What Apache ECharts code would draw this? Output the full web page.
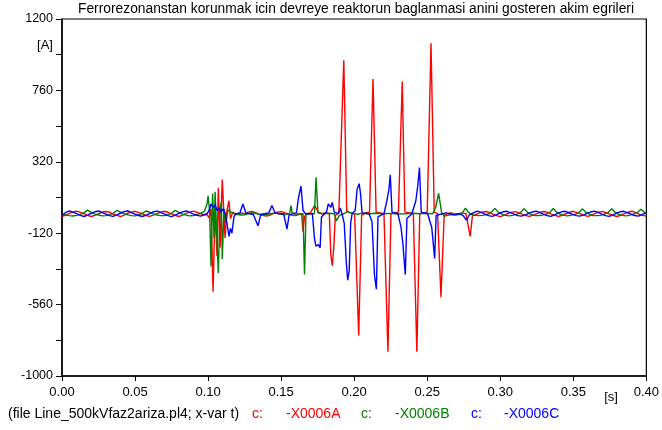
<!DOCTYPE html>
<html><head><meta charset="utf-8">
<script src="https://cdn.jsdelivr.net/npm/echarts@6/dist/echarts.min.js"></script>
<style>html,body{margin:0;padding:0;background:#fff}#c{width:662px;height:430px}</style>
</head><body><div id="c"></div>
<script>
const titleText = 'Ferrorezonanstan korunmak icin devreye reaktorun baglanmasi anini gosteren akim egrileri';
const yUnit = '[A]';
const xUnit = '[s]';
const fileNote = '(file Line_500kVfaz2ariza.pl4; x-var t)';
const seriesNames = ['-X0006A', '-X0006B', '-X0006C'];
const seriesColors = ['#ff0000', '#008000', '#0000ff'];

// Phase A current [t (s), i (A)]
const curveA = [
[0,-18],[0.0025,-8],[0.005,2],[0.0075,10],[0.01,16],[0.0125,8],[0.015,0],[0.0175,-10],[0.02,-17],[0.0225,-10],
[0.025,0],[0.0275,9],[0.03,14],[0.0325,10],[0.035,-2],[0.0375,-9],[0.04,-18],[0.0425,-8],[0.045,3],[0.0475,10],
[0.05,15],[0.0525,7],[0.055,0],[0.0575,-11],[0.06,-16],[0.0625,-9],[0.065,1],[0.0675,8],[0.07,15],[0.0725,9],
[0.075,-1],[0.0775,-10],[0.08,-17],[0.0825,-9],[0.085,2],[0.0875,10],[0.09,16],[0.0925,8],[0.095,0],[0.0975,-8],
[0.0993,-5],[0.1007,-25],[0.102,30],[0.1034,-480],[0.1048,40],[0.1061,-260],[0.107,160],[0.1082,-210],[0.1097,210],
[0.1116,-150],[0.1129,20],[0.1143,80],[0.1153,-30],[0.117,10],[0.119,-5],
[0.1225,5],[0.125,0],[0.1275,10],[0.13,14],[0.1325,6],[0.135,-3],[0.1375,-10],[0.14,-14],[0.1425,-8],[0.145,2],
[0.1475,9],[0.15,13],[0.1525,7],[0.155,-2],[0.1575,-9],[0.16,-12],[0.162,-6],
[0.164,0],[0.165,-110],[0.166,-20],[0.1673,0],[0.17,5],[0.1729,50],[0.1737,45],[0.1755,10],[0.178,0],[0.1805,5],
[0.183,0],[0.184,-250],[0.185,-320],[0.1861,-200],[0.1871,-10],[0.1895,5],[0.1908,10],[0.1929,945],[0.1949,15],
[0.1975,5],[0.2003,0],[0.2031,-750],[0.2051,-10],[0.2078,5],[0.2105,10],[0.2129,830],[0.215,10],[0.2178,5],
[0.2204,0],[0.2231,-850],[0.2252,0],[0.2278,5],[0.2303,10],[0.2329,815],[0.2347,10],[0.2378,5],[0.2405,0],
[0.2429,-850],[0.2449,0],[0.2475,5],[0.25,10],[0.2526,1050],[0.2548,10],[0.2571,0],[0.2594,-515],[0.2616,-10],
[0.264,0],[0.2665,5],[0.269,-5],[0.2715,0],[0.274,5],[0.2765,0],[0.2776,-5],[0.2794,-140],[0.281,-10],
[0.2825,-8],[0.285,2],[0.2875,10],[0.29,14],[0.2925,8],[0.295,-2],[0.2975,-12],[0.30,-18],[0.3025,-10],[0.305,0],
[0.3075,8],[0.31,13],[0.3125,7],[0.315,-3],[0.3175,-11],[0.32,-16],[0.3225,-9],[0.325,1],[0.3275,9],[0.33,14],
[0.3325,8],[0.335,-2],[0.3375,-10],[0.34,-17],[0.3425,-9],[0.345,0],[0.3475,9],[0.35,15],[0.3525,7],[0.355,-1],
[0.3575,-10],[0.36,-16],[0.3625,-8],[0.365,2],[0.3675,10],[0.37,14],[0.3725,6],[0.375,-2],[0.3775,-11],[0.38,-17],
[0.3825,-8],[0.385,1],[0.3875,9],[0.39,15],[0.3925,8],[0.395,-3],[0.3975,-10],[0.40,-15]
];

// Phase B current
const curveB = [
[0,-5],[0.0025,-8],[0.005,-12],[0.0075,-14],[0.01,-10],[0.0125,-4],[0.015,5],[0.0175,22],[0.02,8],[0.0225,-2],
[0.025,-8],[0.0275,-13],[0.03,-12],[0.0325,-6],[0.035,2],[0.0375,20],[0.04,10],[0.0425,0],[0.045,-7],[0.0475,-12],
[0.05,-13],[0.0525,-7],[0.055,3],[0.0575,18],[0.06,9],[0.0625,-1],[0.065,-8],[0.0675,-12],[0.07,-12],[0.0725,-6],
[0.075,2],[0.0775,21],[0.08,8],[0.0825,-2],[0.085,-9],[0.0875,-13],[0.09,-11],[0.0925,-5],[0.095,4],[0.0975,15],
[0.0993,60],[0.1,110],[0.101,20],[0.102,-325],[0.1031,125],[0.1041,-150],[0.1048,135],[0.1058,-100],[0.107,-365],
[0.1082,40],[0.1091,70],[0.1097,-280],[0.1109,30],[0.1122,-60],[0.1136,25],[0.1156,10],[0.1177,0],[0.12,-5],
[0.1225,-8],[0.125,-6],[0.1275,0],[0.13,6],[0.1325,3],[0.135,-3],[0.1375,-6],[0.14,-4],[0.1425,0],[0.145,4],
[0.1475,2],[0.15,-3],[0.1525,-5],[0.1558,0],[0.1568,50],[0.1575,5],[0.16,-3],[0.1625,0],[0.165,0],[0.166,-375],
[0.167,-5],[0.17,0],[0.1728,0],[0.1739,225],[0.1752,5],[0.178,0],[0.1825,3],[0.1865,0],[0.1878,-45],[0.1888,-40],
[0.1898,-10],[0.193,0],[0.1955,15],[0.1964,25],[0.1975,5],[0.2,0],[0.2025,-3],[0.205,2],[0.21,0],[0.215,3],
[0.22,0],[0.225,2],[0.23,-2],[0.235,0],[0.24,3],[0.245,0],[0.25,2],[0.2538,0],[0.2558,40],[0.2578,125],
[0.2599,5],[0.2619,-15],[0.264,-10],[0.2665,-5],[0.269,-8],[0.2715,-5],[0.274,5],[0.2762,35],[0.278,10],[0.2805,-5],
[0.283,-10],[0.2855,-12],[0.288,-10],[0.2905,-5],[0.293,2],[0.2963,33],[0.2985,12],[0.301,-3],[0.3035,-10],[0.306,-13],
[0.3085,-10],[0.311,-4],[0.3135,4],[0.3163,30],[0.3185,10],[0.321,-4],[0.3235,-11],[0.326,-12],[0.3285,-9],[0.331,-3],
[0.3335,5],[0.3363,32],[0.3385,11],[0.341,-2],[0.3435,-10],[0.346,-13],[0.3485,-9],[0.351,-4],[0.3535,4],[0.3563,30],
[0.3585,9],[0.361,-3],[0.3635,-11],[0.366,-12],[0.3685,-10],[0.371,-3],[0.3735,5],[0.3763,31],[0.3785,10],[0.381,-4],
[0.3835,-10],[0.386,-13],[0.3885,-9],[0.391,-3],[0.3935,5],[0.3963,28],[0.3985,10],[0.40,0]
];

// Phase C current
const curveC = [
[0,-10],[0.0025,8],[0.005,18],[0.0075,10],[0.01,0],[0.0125,-10],[0.015,-17],[0.0175,-8],[0.02,2],[0.0225,12],
[0.025,17],[0.0275,8],[0.03,-2],[0.0325,-12],[0.035,-16],[0.0375,-7],[0.04,3],[0.0425,13],[0.045,18],[0.0475,7],
[0.05,-3],[0.0525,-11],[0.055,-17],[0.0575,-9],[0.06,1],[0.0625,12],[0.065,16],[0.0675,9],[0.07,-1],[0.0725,-12],
[0.075,-18],[0.0775,-8],[0.08,2],[0.0825,11],[0.085,17],[0.0875,8],[0.09,-2],[0.0925,-10],[0.095,-15],[0.0975,-5],
[0.0993,0],[0.1007,20],[0.102,60],[0.1034,40],[0.1048,55],[0.1061,20],[0.1075,35],[0.1088,10],[0.1102,30],[0.1116,5],
[0.1129,-60],[0.1143,-140],[0.1153,-90],[0.1163,-120],[0.1177,-20],[0.119,0],[0.1218,5],[0.1238,60],[0.1259,5],
[0.1285,0],[0.131,-5],[0.132,-5],[0.1342,-75],[0.136,-5],[0.1385,0],[0.1415,5],[0.1437,50],[0.1459,5],[0.1485,0],
[0.1517,0],[0.154,-95],[0.1554,-10],[0.158,0],[0.1605,5],[0.1619,100],[0.1636,170],[0.165,20],[0.1667,0],[0.1714,0],
[0.1728,-150],[0.1738,-200],[0.1755,-190],[0.1767,-210],[0.1776,-20],[0.181,10],[0.1823,60],[0.184,40],[0.185,70],
[0.1864,10],[0.1891,0],[0.1905,35],[0.1918,-5],[0.1932,-60],[0.1946,-300],[0.1956,-410],[0.1966,-350],[0.1976,-60],
[0.1986,0],[0.2007,20],[0.202,150],[0.2034,185],[0.2044,120],[0.2054,5],[0.2102,0],[0.2122,-50],[0.2139,-380],
[0.2152,-465],[0.2163,-20],[0.2204,0],[0.2224,80],[0.2238,150],[0.2247,240],[0.2259,10],[0.2299,0],[0.232,-80],
[0.2333,-180],[0.235,-375],[0.2361,-30],[0.2395,0],[0.2422,80],[0.2435,170],[0.2447,285],[0.2459,10],[0.2503,0],
[0.2531,-85],[0.2541,-80],[0.2551,-275],[0.2561,-10],[0.2605,0],[0.263,5],[0.2655,0],[0.268,-5],[0.2715,0],
[0.2745,-10],[0.2769,-40],[0.279,-5],[0.2815,5],
[0.2844,16],[0.287,8],[0.2895,-3],[0.292,-12],[0.2945,-16],[0.297,-8],[0.2995,3],[0.302,12],[0.3045,15],[0.307,7],
[0.3095,-3],[0.312,-12],[0.3145,-15],[0.317,-7],[0.3195,2],[0.322,11],[0.3245,16],[0.327,8],[0.3295,-2],[0.332,-11],
[0.3345,-16],[0.337,-8],[0.3395,3],[0.342,12],[0.3445,15],[0.347,6],[0.3495,-4],[0.352,-12],[0.3545,-15],[0.357,-7],
[0.3595,2],[0.362,11],[0.3645,16],[0.367,8],[0.3695,-3],[0.372,-12],[0.3745,-16],[0.377,-8],[0.3795,3],[0.382,12],
[0.3845,15],[0.387,7],[0.3895,-3],[0.392,-11],[0.3945,-15],[0.397,-6],[0.40,5]
];

const FONT = '"Liberation Sans", Arial, sans-serif';
const chart = echarts.init(document.getElementById('c'), null, {renderer: 'canvas'});
const curves = [curveA, curveB, curveC];

const legendItems = [
  {text: fileNote, x: 8, color: '#000'},
  {text: 'c:', x: 252, color: seriesColors[0]},
  {text: seriesNames[0], x: 286, color: seriesColors[0]},
  {text: 'c:', x: 361, color: seriesColors[1]},
  {text: seriesNames[1], x: 395, color: seriesColors[1]},
  {text: 'c:', x: 471, color: seriesColors[2]},
  {text: seriesNames[2], x: 504, color: seriesColors[2]}
];

chart.setOption({
  animation: false,
  backgroundColor: '#fff',
  grid: {left: 62, right: 12, top: 19, bottom: 54, show: true, borderColor: '#000', borderWidth: 1.2, backgroundColor: 'transparent'},
  xAxis: {
    type: 'value', min: 0, max: 0.4, interval: 0.05,
    axisLine: {show: true, onZero: false, lineStyle: {color: '#000', width: 1.5}},
    axisTick: {show: true, inside: false, length: 5, lineStyle: {color: '#000', width: 1}},
    axisLabel: {color: '#000', fontSize: 13, fontFamily: FONT, margin: 10, formatter: v => v.toFixed(2)},
    splitLine: {show: false}
  },
  yAxis: {
    type: 'value', min: -1000, max: 1200, interval: 440,
    axisLine: {show: true, onZero: false, lineStyle: {color: '#000', width: 1.5}},
    axisTick: {show: true, inside: false, length: 6, lineStyle: {color: '#000', width: 1}},
    minorTick: {show: true, splitNumber: 2, length: 6, lineStyle: {color: '#000', width: 1}},
    axisLabel: {color: '#000', fontSize: 12.5, fontFamily: FONT, margin: 9, formatter: v => String(Math.round(v))},
    splitLine: {show: false}
  },
  series: curves.map((c, i) => ({
    type: 'line', name: seriesNames[i], data: c, showSymbol: false, symbol: 'none',
    lineStyle: {color: seriesColors[i], width: 1.4}, z: 2 + i, clip: true
  })),
  graphic: [
    {type: 'text', x: 356, y: 9, style: {text: titleText, fill: '#000', font: '13.8px ' + FONT, textAlign: 'center', textVerticalAlign: 'middle'}},
    {type: 'text', x: 45, y: 45, style: {text: yUnit, fill: '#000', font: '13px ' + FONT, textAlign: 'center', textVerticalAlign: 'middle'}},
    {type: 'text', x: 611, y: 397, style: {text: xUnit, fill: '#000', font: '13px ' + FONT, textAlign: 'center', textVerticalAlign: 'middle'}}
  ].concat(legendItems.map(it => ({
    type: 'text', x: it.x, y: 414, style: {text: it.text, fill: it.color, font: '14px ' + FONT, textAlign: 'left', textVerticalAlign: 'middle'}
  })))
});
</script>
</body></html>
